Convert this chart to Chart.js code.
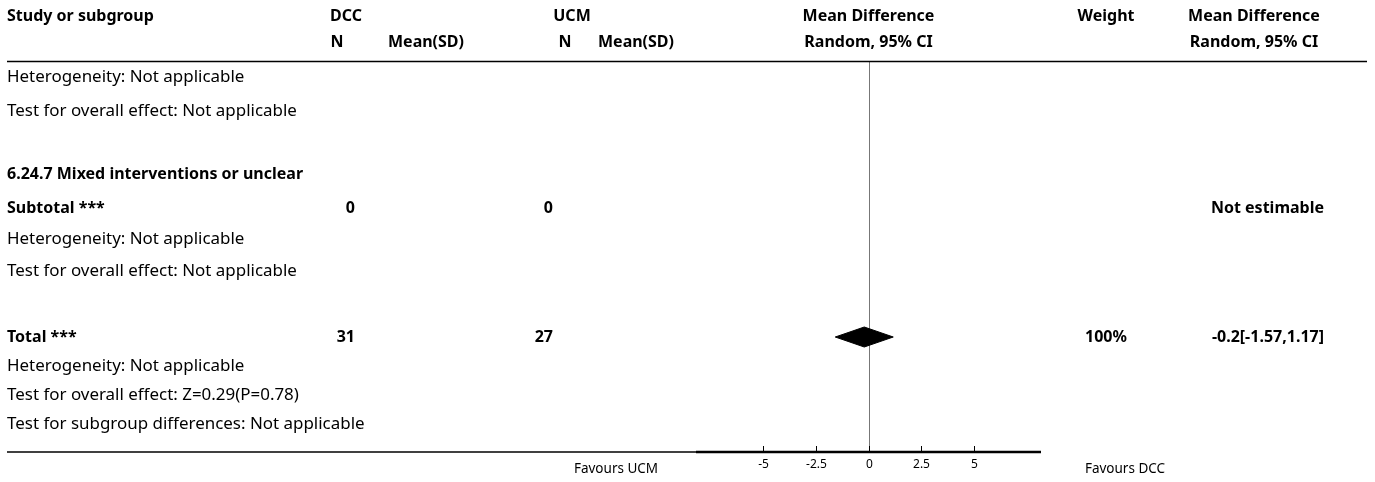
<!DOCTYPE html>
<html>
<head>
<meta charset="utf-8">
<script src="https://cdn.jsdelivr.net/npm/chart.js@4.4.1/dist/chart.umd.min.js"></script>
<style>
  body { margin: 0; background: #fff; }
  #wrap { width: 1375px; height: 482px; position: relative; }
</style>
</head>
<body>
<div id="wrap"><canvas id="forest"></canvas></div>
<script>
// data
const groups = ['DCC', 'UCM'];
const subtotalN = [0, 0];
const totalN = [31, 27];
const totalWeight = '100%';
const totalMD = -0.2;
const totalCI = [-1.57, 1.17];
const axisTicks = [-5, -2.5, 0, 2.5, 5];
const favours = ['Favours UCM', 'Favours DCC'];

const rows = [
  { text: 'Heterogeneity: Not applicable' },
  { text: 'Test for overall effect: Not applicable' },
  { text: '6.24.7 Mixed interventions or unclear', bold: true },
  { text: 'Subtotal ***', bold: true, n: subtotalN, md: 'Not estimable' },
  { text: 'Heterogeneity: Not applicable' },
  { text: 'Test for overall effect: Not applicable' },
  { text: 'Total ***', bold: true, n: totalN, w: totalWeight, md: '-0.2[-1.57,1.17]', diamond: true },
  { text: 'Heterogeneity: Not applicable' },
  { text: 'Test for overall effect: Z=0.29(P=0.78)' },
  { text: 'Test for subgroup differences: Not applicable' }
];

// layout
const rowY = [77, 111, 174, 208, 239, 271, 337, 366, 395, 424];
const FONT = '"Noto Sans", sans-serif';
const LEFT = 7;
const diamondHalf = 10;
const totalRow = rows.findIndex(r => r.diamond);
const ty = rowY[totalRow];

// pick font sizes so text widths match the picture
function fitSize(ctx, s, bold, target) {
  ctx.font = (bold ? 'bold ' : '') + '20px ' + FONT;
  return 20 * target / ctx.measureText(s).width;
}
let normalSize = 15, boldSize = 15;

function txt(ctx, s, x, y, align, bold, size) {
  ctx.font = (bold ? 'bold ' : '') + (size || (bold ? boldSize : normalSize)) + 'px ' + FONT;
  ctx.textAlign = align;
  ctx.textBaseline = 'middle';
  ctx.fillStyle = '#000';
  ctx.fillText(s, x, y);
}

const forestText = {
  id: 'forestText',
  beforeDatasetsDraw(chart) {
    // zero line goes under the diamond
    const ctx = chart.ctx;
    const area = chart.chartArea;
    const x0 = Math.round(chart.scales.x.getPixelForValue(0)) + 0.5;
    ctx.save();
    ctx.strokeStyle = '#777';
    ctx.lineWidth = 1;
    ctx.beginPath();
    ctx.moveTo(x0, area.top);
    ctx.lineTo(x0, area.bottom);
    ctx.stroke();
    ctx.restore();
  },
  afterDraw(chart) {
    const ctx = chart.ctx;
    const xs = chart.scales.x;
    const area = chart.chartArea;
    const x0 = xs.getPixelForValue(0);
    ctx.save();
    normalSize = fitSize(ctx, 'Test for subgroup differences: Not applicable', false, 358);
    boldSize = fitSize(ctx, 'Study or subgroup', true, 147);

    // header
    txt(ctx, 'Study or subgroup', LEFT, 16, 'left', true);
    txt(ctx, groups[0], 346, 16, 'center', true);
    txt(ctx, groups[1], 572, 16, 'center', true);
    txt(ctx, 'Mean Difference', x0, 16, 'center', true);
    txt(ctx, 'Weight', 1106, 16, 'center', true);
    txt(ctx, 'Mean Difference', 1254, 16, 'center', true);
    txt(ctx, 'N', 337, 42, 'center', true);
    txt(ctx, 'Mean(SD)', 426, 42, 'center', true);
    txt(ctx, 'N', 565, 42, 'center', true);
    txt(ctx, 'Mean(SD)', 636, 42, 'center', true);
    txt(ctx, 'Random, 95% CI', x0, 42, 'center', true);
    txt(ctx, 'Random, 95% CI', 1254, 42, 'center', true);

    ctx.strokeStyle = '#000';
    ctx.lineWidth = 1.5;
    ctx.beginPath();
    ctx.moveTo(7, 61.5); ctx.lineTo(1367, 61.5);
    ctx.stroke();

    // rows
    rows.forEach((r, i) => {
      const y = rowY[i];
      txt(ctx, r.text, LEFT, y, 'left', r.bold);
      if (r.n) {
        txt(ctx, String(r.n[0]), 355, y, 'right', true);
        txt(ctx, String(r.n[1]), 553, y, 'right', true);
      }
      if (r.w) txt(ctx, r.w, 1106, y, 'center', true);
      if (r.md) txt(ctx, r.md, 1324, y, 'right', true);
    });

    // bottom axis
    ctx.strokeStyle = '#000';
    ctx.lineWidth = 1.5;
    ctx.beginPath();
    ctx.moveTo(7, area.bottom); ctx.lineTo(area.left, area.bottom);
    ctx.stroke();
    ctx.lineWidth = 2.5;
    ctx.beginPath();
    ctx.moveTo(area.left, area.bottom); ctx.lineTo(area.right, area.bottom);
    ctx.stroke();
    ctx.lineWidth = 1;
    axisTicks.forEach(t => {
      const px = Math.round(xs.getPixelForValue(t)) + 0.5;
      ctx.beginPath();
      ctx.moveTo(px, area.bottom - 6); ctx.lineTo(px, area.bottom);
      ctx.stroke();
      txt(ctx, String(t), px, 465, 'center', false, 12);
    });
    txt(ctx, favours[0], 616, 469, 'center', false, 13.5);
    txt(ctx, favours[1], 1125, 469, 'center', false, 13.5);
    ctx.restore();
  }
};

const diamond = [
  { x: totalCI[0], y: ty },
  { x: totalMD, y: ty - diamondHalf },
  { x: totalCI[1], y: ty },
  { x: totalMD, y: ty + diamondHalf },
  { x: totalCI[0], y: ty }
];

new Chart(document.getElementById('forest'), {
  type: 'scatter',
  data: {
    datasets: [{
      data: diamond,
      showLine: true,
      fill: 'shape',
      backgroundColor: '#000',
      borderColor: '#000',
      borderWidth: 1,
      pointRadius: 0,
      tension: 0
    }]
  },
  options: {
    responsive: true,
    maintainAspectRatio: false,
    animation: false,
    layout: { padding: { left: 696, right: 334, top: 62, bottom: 30 } },
    plugins: { legend: { display: false }, tooltip: { enabled: false } },
    scales: {
      x: { type: 'linear', min: -8.15, max: 8.15, display: false },
      y: { type: 'linear', min: 62, max: 452, reverse: true, display: false }
    }
  },
  plugins: [forestText]
});
</script>
</body>
</html>
